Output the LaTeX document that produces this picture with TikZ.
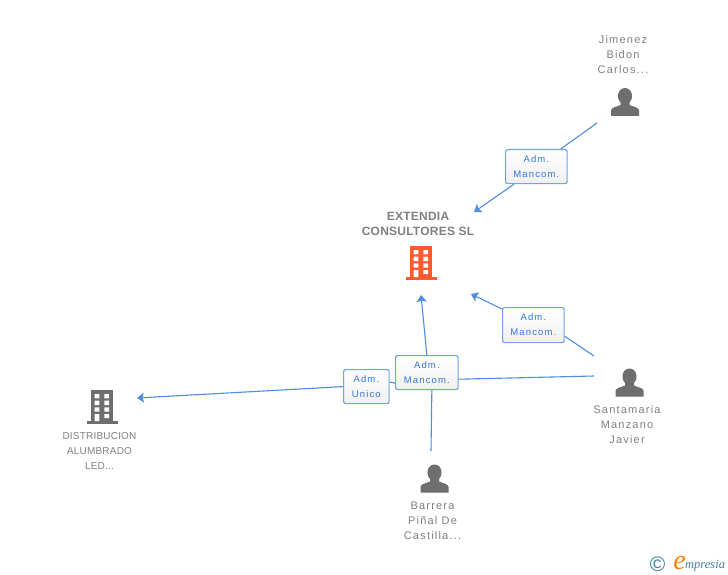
\documentclass[tikz,border=0pt]{standalone}
\usepackage{fontspec}
\setmainfont{Liberation Sans}
\newfontfamily\spc[LetterSpace=11]{Liberation Sans}
\newfontfamily\spd[LetterSpace=2]{Liberation Sans}
\newfontfamily\spb[LetterSpace=12]{Liberation Sans}
\newfontfamily\spt[LetterSpace=2]{Liberation Sans}
\newfontfamily\logofont{Liberation Serif}
\usetikzlibrary{arrows.meta}
\definecolor{linkblue}{HTML}{4F8DE3}
\definecolor{boxblue}{HTML}{6FA3EA}
\definecolor{boxtext}{HTML}{3478DC}
\definecolor{txtgrey}{HTML}{808080}
\definecolor{icongrey}{HTML}{6E6E6E}
\definecolor{iconred}{HTML}{FF5A2C}
\definecolor{logoteal}{HTML}{3E8098}
\tikzset{
  x=1pt,y=-1pt,
  rolebox/.style={draw=boxblue,line width=1.2pt,rounded corners=2pt,fill=white,
    path picture={\shade[top color=white,bottom color=white!94!black] (path picture bounding box.south west) rectangle (path picture bounding box.north east);},
    inner sep=0pt,anchor=north west,align=center,text=boxtext,font=\spb\fontsize{9.5}{15}\selectfont},
  plabel/.style={text=txtgrey,align=center,font=\spc\fontsize{11}{15}\selectfont,inner sep=0pt},
  link/.style={draw=linkblue,line width=1.1pt},
  linka/.style={link,-{Stealth[length=7pt,width=10pt,inset=1.5pt]}},
}
\newcommand{\personicon}[2]{%
  \fill[icongrey,shift={(#1,#2)}] (-14,13.5) -- (-14,8) .. controls (-14,5) and (-9,4.5) .. (-4.5,2.5) -- (-4.5,0)
    .. controls (-7,-3) and (-7,-5) .. (-7,-7) .. controls (-7,-11) and (-4,-14.5) .. (0,-14.5)
    .. controls (4,-14.5) and (7,-11) .. (7,-7) .. controls (7,-5) and (7,-3) .. (4.5,0) -- (4.5,2.5)
    .. controls (9,4.5) and (14,5) .. (14,8) -- (14,13.5) -- cycle;}
\newcommand{\buildingicon}[3]{%
  \begin{scope}[shift={(#1,#2)}]
    \fill[#3] (0,0) rectangle (22,31);
    \fill[#3] (-4,31) rectangle (27,34);
    \fill[white] (3.7,4) rectangle (8.3,8.3) (13.3,4) rectangle (18,8.3)
      (3.7,10.7) rectangle (8.3,15) (13.3,10.7) rectangle (18,15)
      (3.7,17.3) rectangle (8.3,21.7) (13.3,17.3) rectangle (18,21.7)
      (3.7,24) rectangle (8.3,31) (13.3,24) rectangle (18,28);
  \end{scope}}
\begin{document}
\begin{tikzpicture}
\useasboundingbox (0,0) rectangle (728,575);
\fill[white] (0,0) rectangle (728,575);
% free ends
\coordinate (jimFoot) at (597,123);
\coordinate (toMainA) at (474,212);
\coordinate (santaA) at (594,356);
\coordinate (toMainB) at (471,294);
\coordinate (santaB) at (594,376);
\coordinate (toMainC) at (421,295);
\coordinate (barFoot) at (431,451);
\coordinate (toDist) at (137,398);
% boxes
\node[rolebox,minimum width=61.5pt,minimum height=34pt] (b1) at (505,149) {Adm.\\Mancom.};
\node[rolebox,minimum width=61.5pt,minimum height=35pt] (b2) at (502,307) {Adm.\\Mancom.};
\node[rolebox,minimum width=62.5pt,minimum height=34pt] (b3) at (395,355) {Adm.\\Mancom.};
\node[rolebox,minimum width=45.5pt,minimum height=34pt] (b4) at (343,369) {Adm.\\Unico};
% connectors
\draw[link] (jimFoot) -- ([xshift=-7pt]b1.north east);
\draw[linka] ([xshift=9pt]b1.south west) -- (toMainA);
\draw[link] (santaA) -- ([yshift=7pt]b2.south east);
\draw[linka] ([yshift=-2pt]b2.north west) -- (toMainB);
\draw[link] (santaB) -- ([yshift=11pt]b3.south east);
\draw[link] ([yshift=7pt]b3.south west) -- ([yshift=-13pt]b4.north east);
\draw[linka] (b3.north) -- (toMainC);
\draw[link] (barFoot) -- ([xshift=5pt]b3.south);
\draw[linka] (b4.west) -- (toDist);
% labels
\node[text=txtgrey,align=center,inner sep=0pt,font=\spt\bfseries\fontsize{12}{15}\selectfont] (main) at (418,223.5) {EXTENDIA\\CONSULTORES SL};
\buildingicon{410}{246}{iconred}
\buildingicon{91}{390}{icongrey}
\node[plabel,font=\spd\fontsize{10}{15}\selectfont] (dist) at (99.5,451) {DISTRIBUCION\\ALUMBRADO\\LED...};
\node[plabel] (jim) at (623,55) {Jimenez\\Bidon\\Carlos...};
\personicon{625}{102.5}
\personicon{629.5}{383}
\personicon{434.5}{479}
\node[plabel] (santa) at (627,425) {Santamaria\\Manzano\\Javier};
\node[plabel] (bar) at (432.5,521) {Barrera\\Piñal De\\Castilla...};
% logo
\node[text=logoteal,inner sep=0pt,font=\fontsize{21}{21}\selectfont] (copy) at (657.5,564) {©};
\node[anchor=base west,inner sep=0pt,text=logoteal,font=\logofont\itshape\fontsize{12.5}{12.5}\selectfont] (logo) at (685,568) {mpresia};
\node[anchor=base east,inner sep=0pt,text=orange,font=\logofont\itshape\fontsize{28}{28}\selectfont] (logoe) at (686,569) {e};
\end{tikzpicture}
\end{document}
